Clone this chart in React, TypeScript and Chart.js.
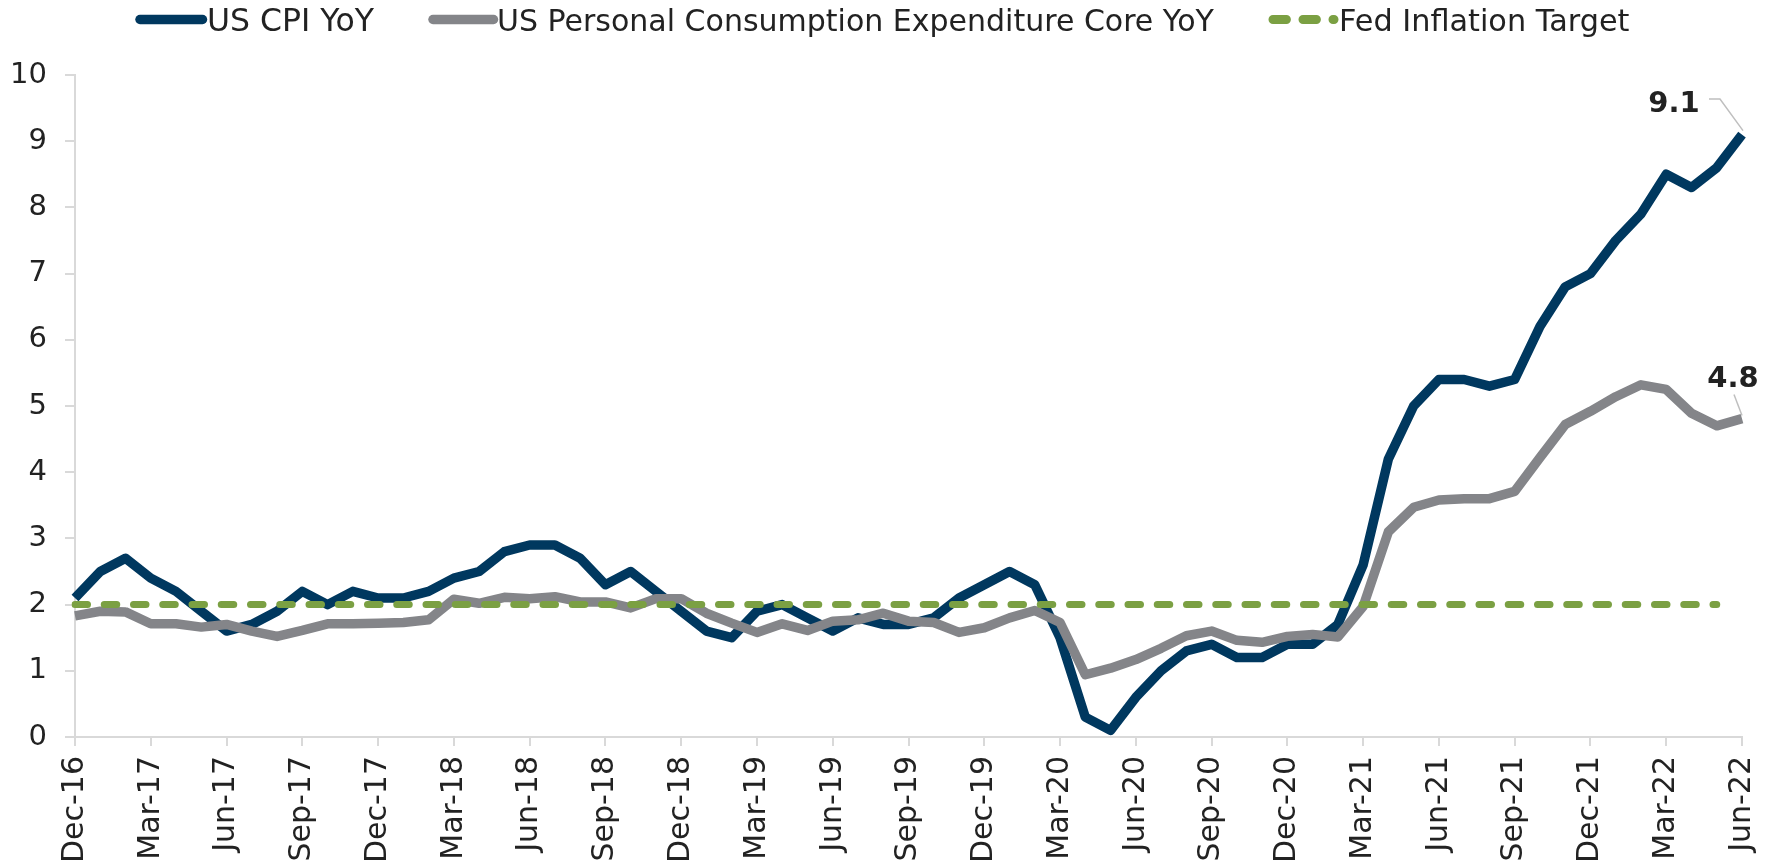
import React, { useEffect, useRef } from 'react';
import { Chart, registerables } from 'chart.js';

Chart.register(...registerables);

const monthLabels = [
  'Dec-16',
  'Jan-17', 'Feb-17', 'Mar-17', 'Apr-17', 'May-17', 'Jun-17', 'Jul-17', 'Aug-17', 'Sep-17', 'Oct-17', 'Nov-17', 'Dec-17',
  'Jan-18', 'Feb-18', 'Mar-18', 'Apr-18', 'May-18', 'Jun-18', 'Jul-18', 'Aug-18', 'Sep-18', 'Oct-18', 'Nov-18', 'Dec-18',
  'Jan-19', 'Feb-19', 'Mar-19', 'Apr-19', 'May-19', 'Jun-19', 'Jul-19', 'Aug-19', 'Sep-19', 'Oct-19', 'Nov-19', 'Dec-19',
  'Jan-20', 'Feb-20', 'Mar-20', 'Apr-20', 'May-20', 'Jun-20', 'Jul-20', 'Aug-20', 'Sep-20', 'Oct-20', 'Nov-20', 'Dec-20',
  'Jan-21', 'Feb-21', 'Mar-21', 'Apr-21', 'May-21', 'Jun-21', 'Jul-21', 'Aug-21', 'Sep-21', 'Oct-21', 'Nov-21', 'Dec-21',
  'Jan-22', 'Feb-22', 'Mar-22', 'Apr-22', 'May-22', 'Jun-22',
];

const cpiValues = [
  2.1,
  2.5, 2.7, 2.4, 2.2, 1.9, 1.6, 1.7, 1.9, 2.2, 2.0, 2.2, 2.1,
  2.1, 2.2, 2.4, 2.5, 2.8, 2.9, 2.9, 2.7, 2.3, 2.5, 2.2, 1.9,
  1.6, 1.5, 1.9, 2.0, 1.8, 1.6, 1.8, 1.7, 1.7, 1.8, 2.1, 2.3,
  2.5, 2.3, 1.5, 0.3, 0.1, 0.6, 1.0, 1.3, 1.4, 1.2, 1.2, 1.4,
  1.4, 1.7, 2.6, 4.2, 5.0, 5.4, 5.4, 5.3, 5.4, 6.2, 6.8, 7.0,
  7.5, 7.9, 8.5, 8.3, 8.6, 9.1,
];

const pceValues = [
  1.83,
  1.90, 1.89, 1.71, 1.71, 1.66, 1.70, 1.60, 1.52, 1.61, 1.71, 1.71, 1.72,
  1.73, 1.77, 2.08, 2.02, 2.11, 2.09, 2.12, 2.04, 2.04, 1.95, 2.09, 2.09,
  1.87, 1.72, 1.58, 1.71, 1.61, 1.75, 1.77, 1.87, 1.75, 1.73, 1.58, 1.65,
  1.80, 1.91, 1.73, 0.94, 1.04, 1.17, 1.34, 1.53, 1.60, 1.46, 1.43, 1.52,
  1.55, 1.51, 1.97, 3.10, 3.47, 3.58, 3.60, 3.60, 3.71, 4.22, 4.72, 4.92,
  5.14, 5.32, 5.25, 4.89, 4.70, 4.81,
];

const targetValues = [
  2,
  2, 2, 2, 2, 2, 2, 2, 2, 2, 2, 2, 2,
  2, 2, 2, 2, 2, 2, 2, 2, 2, 2, 2, 2,
  2, 2, 2, 2, 2, 2, 2, 2, 2, 2, 2, 2,
  2, 2, 2, 2, 2, 2, 2, 2, 2, 2, 2, 2,
  2, 2, 2, 2, 2, 2, 2, 2, 2, 2, 2, 2,
  2, 2, 2, 2, 2, null,
];

const seriesNames = [
  'US CPI YoY',
  'US Personal Consumption Expenditure Core YoY',
  'Fed Inflation Target',
];

const BLUE = '#00385F';
const GREY = '#848589';
const GREEN = '#7BA043';
const AXIS = '#D9D9D9';
const TEXT = '#222222';
const FONT = '"DejaVu Sans", Verdana, sans-serif';

const legendPlugin = {
  id: 'customLegend',
  afterDraw(chart: any) {
    const ctx = chart.ctx;
    const items = [
      { label: seriesNames[0], color: BLUE, x0: 140, x1: 202.5, tx: 207, dash: [] as number[], w: 9.5, size: 31.5 },
      { label: seriesNames[1], color: GREY, x0: 433, x1: 493.5, tx: 497, dash: [] as number[], w: 9.5, size: 30 },
      { label: seriesNames[2], color: GREEN, x0: 1273, x1: 1334, tx: 1339, dash: [13.4, 16.6], w: 9, size: 30.3 },
    ];
    ctx.save();
    for (const it of items) {
      ctx.beginPath();
      ctx.strokeStyle = it.color;
      ctx.lineWidth = it.w;
      ctx.lineCap = 'round';
      ctx.setLineDash(it.dash);
      ctx.moveTo(it.x0, 19.5);
      ctx.lineTo(it.x1, 19.5);
      ctx.stroke();
      ctx.setLineDash([]);
      ctx.fillStyle = TEXT;
      ctx.font = `${it.size}px ${FONT}`;
      ctx.textAlign = 'left';
      ctx.textBaseline = 'alphabetic';
      ctx.fillText(it.label, it.tx, 31);
    }
    ctx.restore();
  },
};

const endLabelPlugin = {
  id: 'endLabels',
  afterDatasetsDraw(chart: any) {
    const ctx = chart.ctx;
    const xs = chart.scales.x;
    const ys = chart.scales.y;
    const last = cpiValues.length - 1;
    const px = xs.getPixelForValue(last);
    const pyC = ys.getPixelForValue(cpiValues[last]);
    const pyP = ys.getPixelForValue(pceValues[last]);
    ctx.save();
    ctx.strokeStyle = '#BFBFBF';
    ctx.lineWidth = 1.5;
    ctx.beginPath();
    ctx.moveTo(px - 33, pyC - 35.5);
    ctx.lineTo(px - 22, pyC - 35.5);
    ctx.lineTo(px + 1, pyC - 4);
    ctx.stroke();
    ctx.beginPath();
    ctx.moveTo(px - 8, pyP - 24);
    ctx.lineTo(px, pyP - 3);
    ctx.stroke();
    ctx.fillStyle = TEXT;
    ctx.font = `bold 29px ${FONT}`;
    ctx.textAlign = 'center';
    ctx.textBaseline = 'alphabetic';
    ctx.fillText(cpiValues[last].toFixed(1), px - 68, pyC - 23);
    ctx.fillText(pceValues[last].toFixed(1), px - 9, pyP - 32);
    ctx.restore();
  },
};

export default function App() {
  const canvasRef = useRef<HTMLCanvasElement | null>(null);

  useEffect(() => {
    const canvas = canvasRef.current;
    if (!canvas) return;
    Chart.defaults.font.family = FONT;
    const chart = new Chart(canvas, {
      type: 'line',
      data: {
        labels: monthLabels,
        datasets: [
          {
            label: seriesNames[2],
            data: targetValues,
            borderColor: GREEN,
            backgroundColor: GREEN,
            borderWidth: 7,
            borderDash: [12.5, 16.75],
            borderCapStyle: 'round',
            pointRadius: 0,
            order: 0,
          },
          {
            label: seriesNames[1],
            data: pceValues,
            borderColor: GREY,
            backgroundColor: GREY,
            borderWidth: 9.5,
            borderJoinStyle: 'round',
            borderCapStyle: 'butt',
            pointRadius: 0,
            order: 1,
          },
          {
            label: seriesNames[0],
            data: cpiValues,
            borderColor: BLUE,
            backgroundColor: BLUE,
            borderWidth: 9.5,
            borderJoinStyle: 'round',
            borderCapStyle: 'butt',
            pointRadius: 0,
            order: 2,
          },
        ],
      },
      options: {
        responsive: false,
        animation: false,
        devicePixelRatio: 1,
        layout: { padding: { top: 75, right: 30, bottom: 0, left: 0 } },
        plugins: {
          legend: { display: false },
          tooltip: { enabled: false },
        },
        scales: {
          x: {
            type: 'category',
            offset: false,
            grid: {
              drawOnChartArea: false,
              drawTicks: true,
              tickLength: 9,
              color: AXIS,
              lineWidth: 2,
            },
            border: { display: true, color: AXIS, width: 2 },
            ticks: {
              autoSkip: false,
              maxRotation: 90,
              minRotation: 90,
              padding: 10,
              color: TEXT,
              font: { family: FONT, size: 30 },
              callback: (_v: any, i: number) => (i % 3 === 0 ? monthLabels[i] : null),
            },
            afterFit: (s: any) => {
              s.height = 128;
              s.paddingLeft = 0;
              s.paddingRight = 0;
            },
          },
          y: {
            min: 0,
            max: 10,
            grid: {
              drawOnChartArea: false,
              drawTicks: true,
              tickLength: 10,
              color: AXIS,
              lineWidth: 2,
            },
            border: { display: true, color: AXIS, width: 2 },
            ticks: {
              stepSize: 1,
              padding: 18,
              color: TEXT,
              font: { family: FONT, size: 29 },
            },
            afterFit: (s: any) => {
              s.width = 75;
              s.paddingTop = 0;
              s.paddingBottom = 0;
            },
          },
        },
      },
      plugins: [legendPlugin, endLabelPlugin],
    } as any);
    return () => chart.destroy();
  }, []);

  return (
    <div style={{ position: 'fixed', left: 0, top: 0, width: 1772, height: 865, background: '#ffffff' }}>
      <canvas ref={canvasRef} width={1772} height={865} style={{ display: 'block', width: 1772, height: 865 }} />
    </div>
  );
}
